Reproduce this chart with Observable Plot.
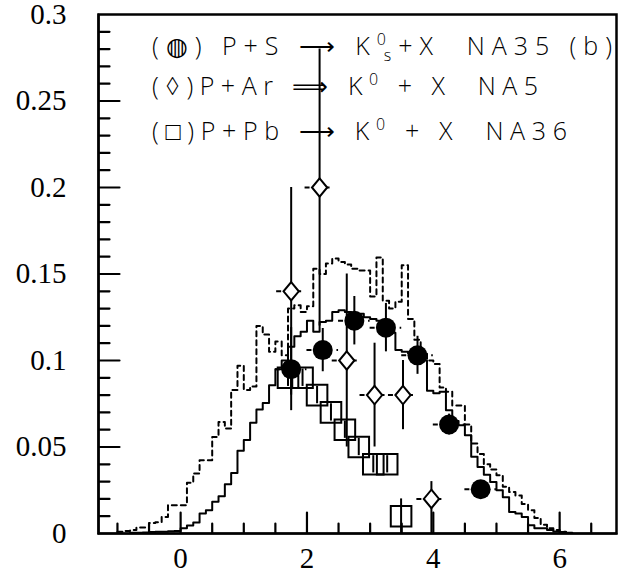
<!DOCTYPE html>
<html><head><meta charset="utf-8">
<script src="https://cdn.jsdelivr.net/npm/d3@7"></script>
<script src="https://cdn.jsdelivr.net/npm/@observablehq/plot@0.6"></script>
<style>
body{margin:0;background:#fff}
#chart{width:621px;height:579px}
</style>
</head><body><div id="chart"></div>
<script>
// ---------------- data ----------------
const binWidth = 0.1;
const solidStart = -0.8;
const solidValues = [0.0005,0.0005,0.0006,0.0008,0.001,0.001,0.0013,0.0015,
  0.003,0.0046,0.0064,0.0116,0.0135,0.0183,0.0216,0.0285,0.035,0.0478,
  0.054,0.064,0.0717,0.0755,0.0857,0.095,0.100,0.108,0.114,0.1166,
  0.123,0.1166,0.1223,0.123,0.128,0.129,0.128,0.126,0.127,0.125,
  0.124,0.123,0.120,0.116,0.106,0.105,0.104,0.102,0.100,0.0825,
  0.081,0.082,0.0713,0.065,0.0626,0.0568,0.0443,0.0385,0.034,0.0298,
  0.025,0.021,0.0125,0.0116,0.0096,0.0048,0.003,0.003,0.002,0.0012,
  0.0008,0.0004];
const dashedStart = -1.0;
const dashedValues = [0.001,0.0015,0.002,0.0035,0.0035,0.006,0.0065,0.0096,0.0164,0.0164,
  0.0164,0.0293,0.0347,0.0424,0.0424,0.0558,0.0645,0.0607,0.083,0.097,
  0.083,0.085,0.120,0.115,0.105,0.111,0.103,0.130,0.132,0.128,
  0.1314,0.153,0.150,0.156,0.159,0.157,0.1555,0.153,0.152,0.152,
  0.137,0.1595,0.1345,0.130,0.134,0.155,0.124,0.112,0.105,0.100,
  0.098,0.0844,0.082,0.074,0.074,0.063,0.052,0.046,0.040,0.037,
  0.0337,0.027,0.024,0.022,0.017,0.0135,0.009,0.005,0.003,0.002,0.001];

// NA35 (filled circles)
const na35X = [1.75, 2.25, 2.75, 3.25, 3.75, 4.25, 4.75];
const na35Y = [0.095, 0.106, 0.123, 0.119, 0.103, 0.063, 0.0256];
const na35Err = [0.024, 0.0125, 0.014, 0.014, 0.011, 0.006, 0.005];
const na35XErr = [0.25, 0.25, 0.25, 0.25, 0.25, 0.25, 0.25];

// NA5 (open diamonds)
const na5X = [1.75, 2.2, 2.63, 3.07, 3.52, 3.97];
const na5Y = [0.14, 0.2, 0.1, 0.08, 0.08, 0.02];
const na5ErrLo = [0.06, 0.08, 0.05, 0.03, 0.02, 0.02];
const na5ErrHi = [0.06, 0.08, 0.05, 0.03, 0.02, 0.01];
const na5XErr = [0.23, 0.23, 0.23, 0.23, 0.23, 0.23];

// NA36 (open squares)
const na36X = [1.7, 1.93, 2.16, 2.38, 2.6, 2.82, 3.05, 3.27, 3.49];
const na36Y = [0.09, 0.09, 0.08, 0.07, 0.06, 0.05, 0.04, 0.04, 0.01];
const na36Err = [0.005, 0.005, 0.005, 0.005, 0.005, 0.005, 0.005, 0.005, 0.01];

// axes
const xDomain = [-1.3, 6.9];
const yDomain = [0, 0.3];
const xMajor = [0, 2, 4, 6];
const xTickLabels = ["0", "2", "4", "6"];
const xAllTicks = [-1, -0.5, 0, 0.5, 1, 1.5, 2, 2.5, 3, 3.5, 4, 4.5, 5, 5.5, 6, 6.5];
const yMajor = [0, 0.05, 0.1, 0.15, 0.2, 0.25, 0.3];
const yTickLabels = ["0", "0.05", "0.1", "0.15", "0.2", "0.25", "0.3"];
const yAllTicks = [0.01,0.02,0.03,0.04,0.05,0.06,0.07,0.08,0.09,0.1,0.11,0.12,0.13,0.14,0.15,
  0.16,0.17,0.18,0.19,0.2,0.21,0.22,0.23,0.24,0.25,0.26,0.27,0.28,0.29];

// legend
const legendLines = [
  [{t: "(◍) P+S ⟶ K"}, {t: "0", sup: true}, {t: "s", sub: true}, {t: "+X  NA35 (b)"}],
  [{t: "(◊)P+Ar ⟹ K"}, {t: "0", sup: true}, {t: " + X  NA5"}],
  [{t: "(□)P+Pb ⟶ K"}, {t: "0", sup: true}, {t: " + X  NA36"}]
];
const legendWidths = [460, 386, 415];

// ---------------- build ----------------
const CW = 621, CH = 579, mLeft = 98, mRight = 5, mTop = 14, mBottom = 46;
const plotW = CW - mLeft - mRight, plotH = CH - mTop - mBottom;
const unitX = (xDomain[1] - xDomain[0]) / plotW;   // data units per pixel
const unitY = (yDomain[1] - yDomain[0]) / plotH;

function histPoints(start, values) {
  const pts = values.map((v, i) => ({x: +(start + i * binWidth).toFixed(2), y: v}));
  pts.push({x: +(start + values.length * binWidth).toFixed(2), y: values[values.length - 1]});
  return pts;
}
const solidPts = histPoints(solidStart, solidValues);
const dashedPts = histPoints(dashedStart, dashedValues);

const na35 = na35X.map((x, i) => ({x, y: na35Y[i], lo: na35Y[i] - na35Err[i], hi: na35Y[i] + na35Err[i], xlo: x - na35XErr[i], xhi: x + na35XErr[i]}));
const na5 = na5X.map((x, i) => ({x, y: na5Y[i], lo: na5Y[i] - na5ErrLo[i], hi: na5Y[i] + na5ErrHi[i], xlo: x - na5XErr[i], xhi: x + na5XErr[i]}));
const na36 = na36X.map((x, i) => ({x, y: na36Y[i], lo: na36Y[i] - na36Err[i], hi: na36Y[i] + na36Err[i]}));

// axis comb paths: run along the axis and go in/out at each tick (one continuous line each)
const bottomComb = [{x: xDomain[0], y: yDomain[0]}];
xAllTicks.forEach(t => {
  const len = xMajor.includes(t) ? 21 : 10;
  bottomComb.push({x: t, y: yDomain[0]}, {x: t, y: yDomain[0] + len * unitY}, {x: t, y: yDomain[0]});
});
bottomComb.push({x: xDomain[1], y: yDomain[0]});
const leftComb = [{x: xDomain[0], y: yDomain[0]}];
yAllTicks.forEach(t => {
  const len = yMajor.some(m => Math.abs(m - t) < 1e-9) ? 21 : 11;
  leftComb.push({x: xDomain[0], y: t}, {x: xDomain[0] + len * unitX, y: t}, {x: xDomain[0], y: t});
});
leftComb.push({x: xDomain[0], y: yDomain[1]});

const squareSym = {draw(ctx, size) { const r = Math.sqrt(size / Math.PI); ctx.moveTo(-r, -r); ctx.lineTo(r, -r); ctx.lineTo(r, r); ctx.lineTo(-r, r); ctx.closePath(); }};
const diamondSym = {draw(ctx, size) { const r = Math.sqrt(size / Math.PI); const w = r * 0.83; ctx.moveTo(0, -r); ctx.lineTo(w, 0); ctx.lineTo(0, r); ctx.lineTo(-w, 0); ctx.closePath(); }};

const plot = Plot.plot({
  width: CW, height: CH,
  marginLeft: mLeft, marginRight: mRight, marginTop: mTop, marginBottom: mBottom,
  x: {domain: xDomain},
  y: {domain: yDomain},
  style: {fontFamily: "'Liberation Serif', 'Times New Roman', serif", fontSize: "29px", color: "black", background: "white"},
  marks: [
    Plot.line(dashedPts, {x: "x", y: "y", curve: "step-after", stroke: "black", strokeWidth: 2, strokeDasharray: "5,4"}),
    Plot.line(solidPts, {x: "x", y: "y", curve: "step-after", stroke: "black", strokeWidth: 2}),
    Plot.ruleX(na36, {x: "x", y1: "lo", y2: "hi", stroke: "black", strokeWidth: 2}),
    Plot.ruleX(na5, {x: "x", y1: "lo", y2: "hi", stroke: "black", strokeWidth: 2}),
    Plot.ruleY(na5, {y: "y", x1: "xlo", x2: "xhi", stroke: "black", strokeWidth: 2, strokeDasharray: "5,5"}),
    Plot.ruleX(na35, {x: "x", y1: "lo", y2: "hi", stroke: "black", strokeWidth: 2}),
    Plot.ruleY(na35, {y: "y", x1: "xlo", x2: "xhi", stroke: "black", strokeWidth: 2, strokeDasharray: "5,5"}),
    Plot.dot(na36, {x: "x", y: "y", symbol: squareSym, r: 10.3, stroke: "black", strokeWidth: 2, fill: "none"}),
    Plot.dot(na5, {x: "x", y: "y", symbol: diamondSym, r: 9.2, stroke: "black", strokeWidth: 2, fill: "white"}),
    Plot.dot(na35, {x: "x", y: "y", r: 10, fill: "black", stroke: "none"}),
    // inward tick combs
    Plot.line(bottomComb, {x: "x", y: "y", stroke: "black", strokeWidth: 2.2, curve: "linear"}),
    Plot.line(leftComb, {x: "x", y: "y", stroke: "black", strokeWidth: 2.2, curve: "linear"}),
    Plot.axisX(xMajor, {tickSize: 0, tickPadding: 14, tickFormat: (d, i) => xTickLabels[i], label: null}),
    Plot.axisY(yMajor, {tickSize: 0, tickPadding: 32, tickFormat: (d, i) => yTickLabels[i], label: null}),
    Plot.frame({stroke: "black", strokeWidth: 2.5})
  ]
});

const svg = d3.select(plot);

// legend (real text with super/subscripts)
const lg = svg.append("g")
  .attr("font-family", "'Open Sans', 'DejaVu Sans', sans-serif")
  .attr("font-weight", 300)
  .attr("font-size", 25)
  .attr("fill", "black")
  .attr("text-anchor", "start")
  .style("white-space", "pre");
const baselines = [55, 95, 140];
legendLines.forEach((pieces, li) => {
  const text = lg.append("text")
    .attr("x", 152).attr("y", baselines[li])
    .attr("text-anchor", "start")
    .attr("textLength", legendWidths[li]).attr("lengthAdjust", "spacing");
  let off = 0;
  pieces.forEach(p => {
    const ts = text.append("tspan").text(p.t);
    if (p.sup) { ts.attr("font-size", 16).attr("dy", -10 - off); off = -10; }
    else if (p.sub) { ts.attr("font-size", 16).attr("dx", -9).attr("dy", 6 - off); off = 6; }
    else if (off !== 0) { ts.attr("dy", -off); off = 0; }
  });
});

document.getElementById("chart").appendChild(plot);
</script>
</body></html>
